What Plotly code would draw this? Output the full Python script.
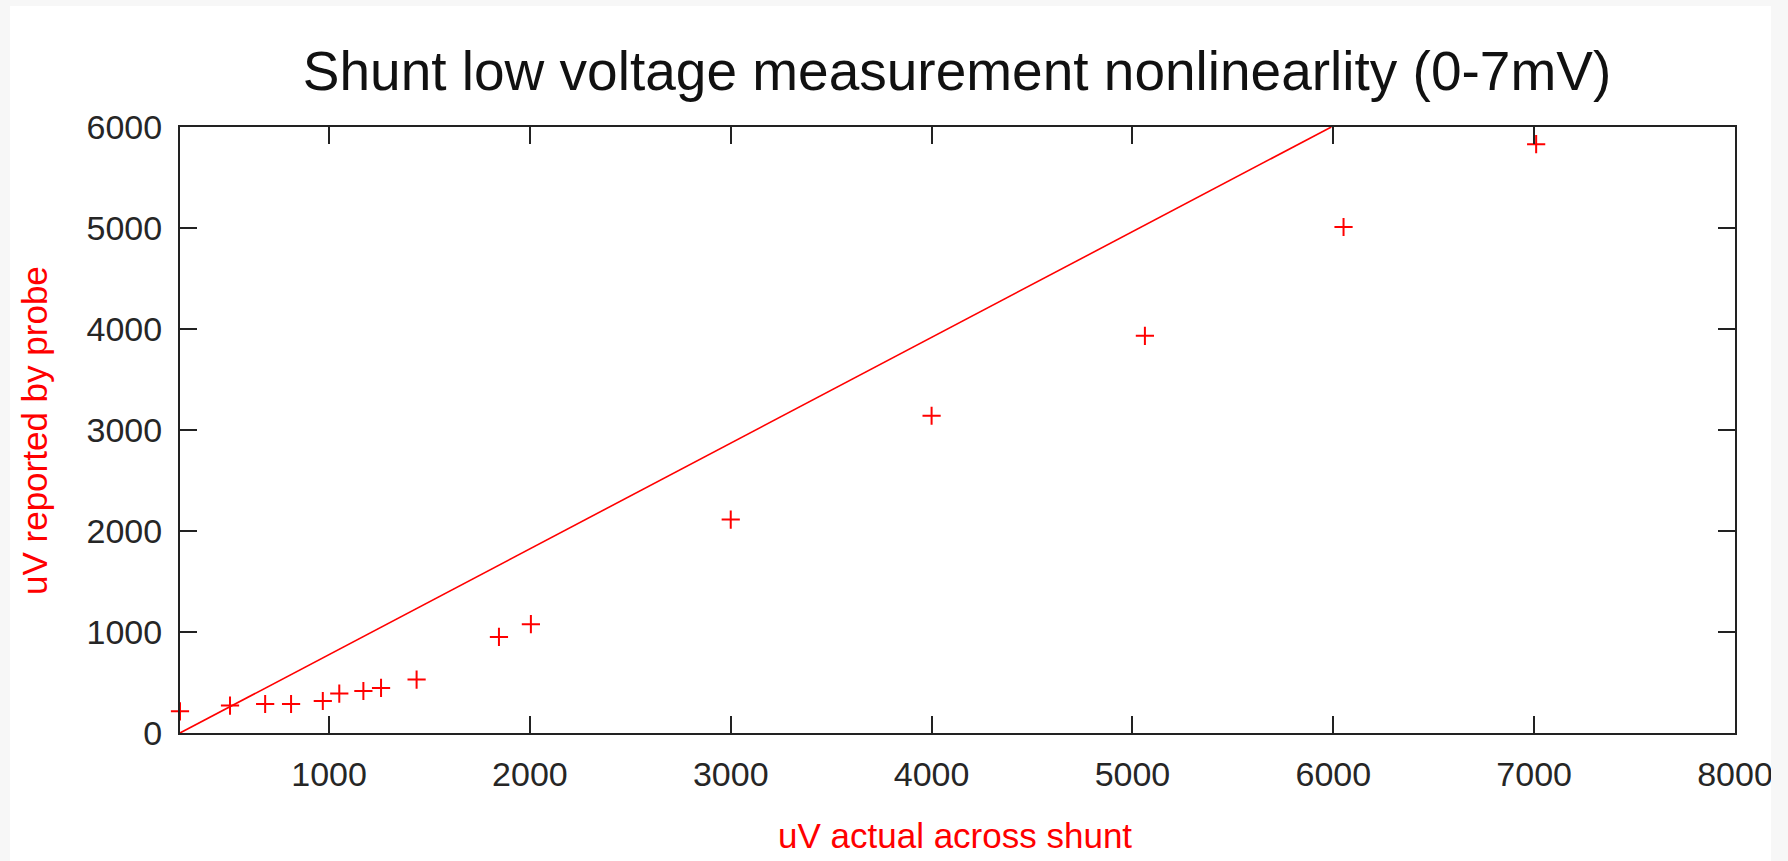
import plotly.graph_objects as go

# Measured points: uV actual across shunt vs uV reported by probe
actual_uv = [258, 507, 682, 811, 969, 1051, 1171, 1259, 1436, 1846, 2005,
             3000, 4000, 5062, 6051, 7010]
reported_uv = [215, 272, 287, 287, 317, 390, 416, 446, 529, 951, 1077,
               2113, 3141, 3932, 5010, 5830]

# Reference line endpoints
ref_x = [258, 5990]
ref_y = [0, 6000]

x_range = [258, 8000]
y_range = [0, 6000]
x_ticks = [1000, 2000, 3000, 4000, 5000, 6000, 7000, 8000]
y_ticks = [0, 1000, 2000, 3000, 4000, 5000, 6000]

W, H = 1788, 861
L, R, T, B = 180, 53, 127, 128
pw = W - L - R
ph = H - T - B

def px_x(p):
    return (p - L) / pw

def px_y(p):
    return (H - B - p) / ph

RED = "#ff0000"
FONT = "Liberation Sans, Arial, sans-serif"

fig = go.Figure()
fig.add_trace(go.Scatter(x=ref_x, y=ref_y, mode="lines",
                         line=dict(color=RED, width=1.6), showlegend=False,
                         hoverinfo="skip"))
fig.add_trace(go.Scatter(x=actual_uv, y=reported_uv, mode="markers",
                         marker=dict(symbol="cross-thin", size=13,
                                     line=dict(color=RED, width=2), color=RED),
                         cliponaxis=False, showlegend=False))

axis_common = dict(showgrid=False, zeroline=False, showline=True,
                   linecolor="#222", linewidth=2, mirror="ticks",
                   ticks="inside", ticklen=17, tickwidth=2, tickcolor="#222",
                   tickfont=dict(family=FONT, size=34, color="#262626"))

fig.update_layout(
    width=W, height=H,
    margin=dict(l=L, r=R, t=T, b=B),
    paper_bgcolor="white", plot_bgcolor="white",
    title=dict(text="Shunt low voltage measurement nonlinearlity (0-7mV)",
               font=dict(family=FONT, size=55, color="#111"),
               x=px_x(957), xref="paper", xanchor="center",
               y=1 - 71 / H, yref="container", yanchor="middle"),
    xaxis=dict(range=x_range, tickvals=x_ticks, ticklabelstandoff=10,
               **axis_common),
    yaxis=dict(range=y_range, tickvals=y_ticks, ticklabelstandoff=9,
               **axis_common),
    annotations=[
        dict(text="uV actual across shunt", xref="paper", yref="paper",
             x=px_x(955), y=px_y(835), xanchor="center", yanchor="middle",
             showarrow=False, font=dict(family=FONT, size=35, color=RED)),
        dict(text="uV reported by probe", xref="paper", yref="paper",
             x=px_x(34), y=px_y(431), xanchor="center", yanchor="middle",
             textangle=-90, showarrow=False,
             font=dict(family=FONT, size=35, color=RED)),
    ],
    shapes=[
        dict(type="rect", xref="paper", yref="paper", layer="above",
             x0=px_x(1771), x1=px_x(W + 5), y0=px_y(H + 5), y1=px_y(-5),
             fillcolor="#f7f7f7", line=dict(width=0)),
        dict(type="rect", xref="paper", yref="paper", layer="above",
             x0=px_x(-5), x1=px_x(10), y0=px_y(H + 5), y1=px_y(-5),
             fillcolor="#f7f7f7", line=dict(width=0)),
        dict(type="rect", xref="paper", yref="paper", layer="above",
             x0=px_x(-5), x1=px_x(W + 5), y0=px_y(6), y1=px_y(-5),
             fillcolor="#f7f7f7", line=dict(width=0)),
    ],
)

fig.write_html("out.html", config={"displayModeBar": False},
               post_script="document.body.style.margin='0';"
                           "document.body.style.overflow='hidden';")
